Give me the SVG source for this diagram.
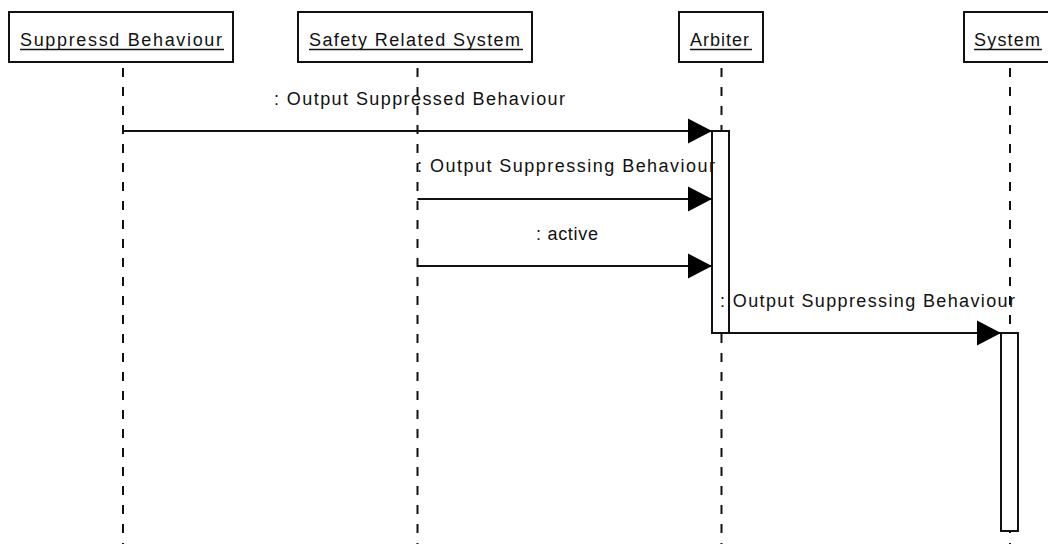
<svg xmlns="http://www.w3.org/2000/svg" width="1048" height="544" viewBox="0 0 1048 544">
  <defs>
    <style>
      .head { fill: #ffffff; stroke: #111111; stroke-width: 2; }
      .name { font-family: "Liberation Sans", Arial, sans-serif; font-size: 18px; fill: #111111; }
      .uline { stroke: #111111; stroke-width: 1.5; }
      .life { stroke: #111111; stroke-width: 2; stroke-dasharray: 9 10; fill: none; }
      .act { fill: #ffffff; stroke: #111111; stroke-width: 2; }
      .msg { stroke: #111111; stroke-width: 1.8; fill: none; marker-end: url(#arrow); }
      .lbl { font-family: "Liberation Sans", Arial, sans-serif; font-size: 18px; fill: #111111; }
    </style>
    <marker id="arrow" markerUnits="userSpaceOnUse" markerWidth="25" markerHeight="26" refX="24" refY="12.5" orient="auto" overflow="visible">
      <path d="M0,0 L24,12.5 L0,25 Z" fill="#000000"/>
    </marker>
  </defs>

  <rect width="1048" height="544" fill="#ffffff"/>

  <!-- Lifeline: Suppressd Behaviour -->
  <g id="suppressd-behaviour">
    <rect class="head" x="9" y="12" width="224" height="50"/>
    <text class="name" x="20" y="46" textLength="202" lengthAdjust="spacing">Suppressd Behaviour</text>
    <line class="uline" x1="20" y1="49.5" x2="224" y2="49.5"/>
    <line class="life" x1="123" y1="68" x2="123" y2="544"/>
  </g>

  <!-- Lifeline: Safety Related System -->
  <g id="safety-related-system">
    <rect class="head" x="298" y="12" width="234" height="50"/>
    <text class="name" x="309" y="46" textLength="211" lengthAdjust="spacing">Safety Related System</text>
    <line class="uline" x1="309" y1="49.5" x2="523" y2="49.5"/>
    <line class="life" x1="417.5" y1="68" x2="417.5" y2="544"/>
  </g>

  <!-- Lifeline: Arbiter -->
  <g id="arbiter">
    <rect class="head" x="679" y="12" width="84" height="50"/>
    <text class="name" x="690" y="46" textLength="59" lengthAdjust="spacing">Arbiter</text>
    <line class="uline" x1="690" y1="49.5" x2="752" y2="49.5"/>
    <line class="life" x1="721.5" y1="68" x2="721.5" y2="544"/>
    <rect class="act" x="712" y="131" width="17" height="202"/>
  </g>

  <!-- Lifeline: System -->
  <g id="system">
    <rect class="head" x="964" y="12" width="90" height="50"/>
    <text class="name" x="974" y="46" textLength="66" lengthAdjust="spacing">System</text>
    <line class="uline" x1="974" y1="49.5" x2="1042" y2="49.5"/>
    <line class="life" x1="1010" y1="68" x2="1010" y2="544"/>
    <rect class="act" x="1001" y="333" width="17" height="198"/>
  </g>

  <!-- Messages -->
  <g id="connectors">
    <line class="msg" x1="123" y1="131" x2="712" y2="131"/>
    <text class="lbl" x="274" y="105" textLength="291" lengthAdjust="spacing">: Output Suppressed Behaviour</text>

    <line class="msg" x1="417.5" y1="199" x2="712" y2="199"/>
    <text class="lbl" x="417" y="172" textLength="298" lengthAdjust="spacing">: Output Suppressing Behaviour</text>

    <line class="msg" x1="417.5" y1="266" x2="712" y2="266"/>
    <text class="lbl" x="536" y="240" textLength="62" lengthAdjust="spacing">: active</text>

    <line class="msg" x1="729" y1="333" x2="1001" y2="333"/>
    <text class="lbl" x="720" y="307" textLength="295" lengthAdjust="spacing">: Output Suppressing Behaviour</text>
  </g>
</svg>
